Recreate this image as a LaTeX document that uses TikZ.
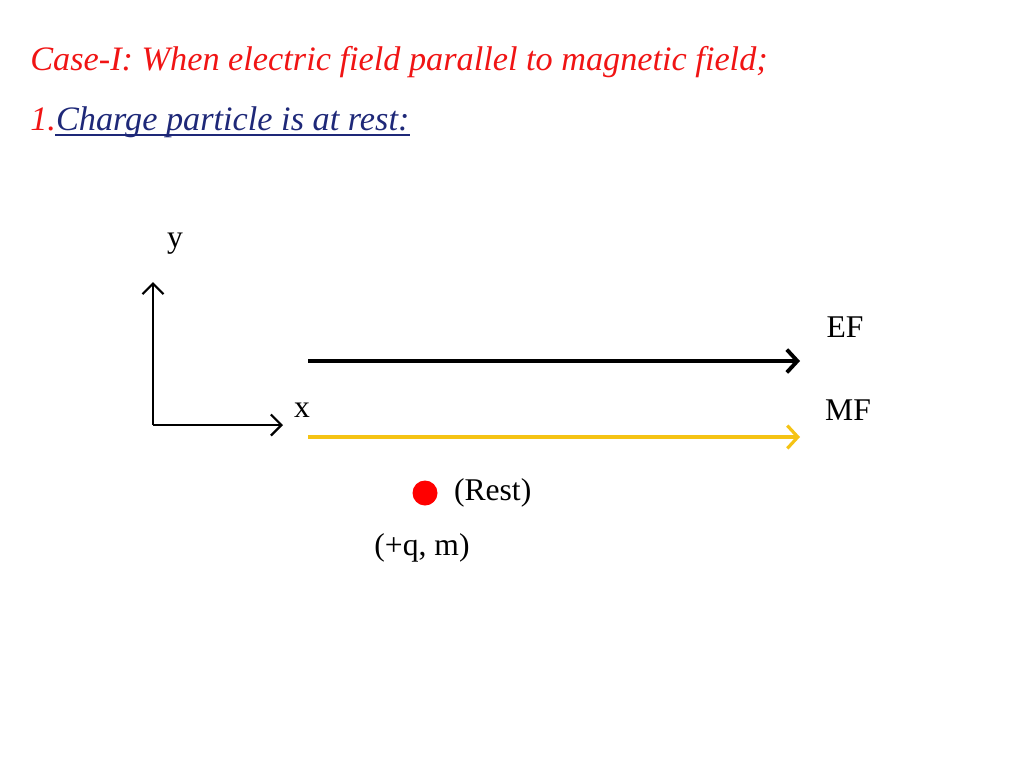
\documentclass[tikz,border=0pt]{standalone}
\usepackage{fontspec}
\setmainfont{Liberation Serif}
\usepackage{xcolor}
\usepackage{tikz}
\usetikzlibrary{positioning,arrows.meta,calc}

\definecolor{titlered}{RGB}{240,20,20}
\definecolor{navyblue}{RGB}{30,40,120}
\definecolor{mfyellow}{RGB}{245,195,20}

\begin{document}
\begin{tikzpicture}[x=0.02cm,y=-0.02cm,
    axis/.style={-{Straight Barb[length=6pt,width=12pt]},line width=1.3pt},
    field/.style={-{Straight Barb[length=6pt,width=13pt]},line width=2.2pt},
    lbl/.style={font=\fontsize{18}{21}\selectfont,inner sep=0pt}]

    \useasboundingbox (0,0) rectangle (1024,768);

    % heading
    \node[anchor=base west,inner sep=0pt,text=titlered,font=\fontsize{19.5}{23}\selectfont\itshape] (title) at (30,70)
        {Case-I: When electric field parallel to magnetic field;};
    \node[anchor=base west,inner sep=0pt,font=\fontsize{19.5}{23}\selectfont\itshape] (sub) at (30,130)
        {\textcolor{titlered}{1.}\textcolor{navyblue}{Charge particle is at rest:}};
    \draw[navyblue,line width=0.8pt] ($(sub.base west)+(25,5)$) -- ($(sub.base east)+(0,5)$);

    % axes
    \coordinate (o) at (153,425);
    \coordinate (ytip) at (153,282);
    \coordinate (xtip) at (283,425);
    \draw[axis] (o) -- (ytip);
    \draw[axis] (o) -- (xtip);
    \node[lbl] (ylab) at (175,244) {y};
    \node[lbl] (xlab) at (302,410) {x};

    % fields
    \coordinate (efa) at (308,361);
    \coordinate (efb) at (800,361);
    \coordinate (mfa) at (308,437);
    \coordinate (mfb) at (800,437);
    \draw[field,black] (efa) -- (efb);
    \draw[field,mfyellow,line width=1.8pt] (mfa) -- (mfb);
    \node[lbl] (ef) at (845,327) {EF};
    \node[lbl] (mf) at (848,410) {MF};

    % particle
    \node[circle,fill=red,inner sep=0pt,minimum size=0.5cm] (q) at (425,493) {};
    \node[lbl,right=9pt of q] (rest) {(Rest)};
    \node[lbl] (qm) at (422,548) {(+q, m)};
\end{tikzpicture}
\end{document}
